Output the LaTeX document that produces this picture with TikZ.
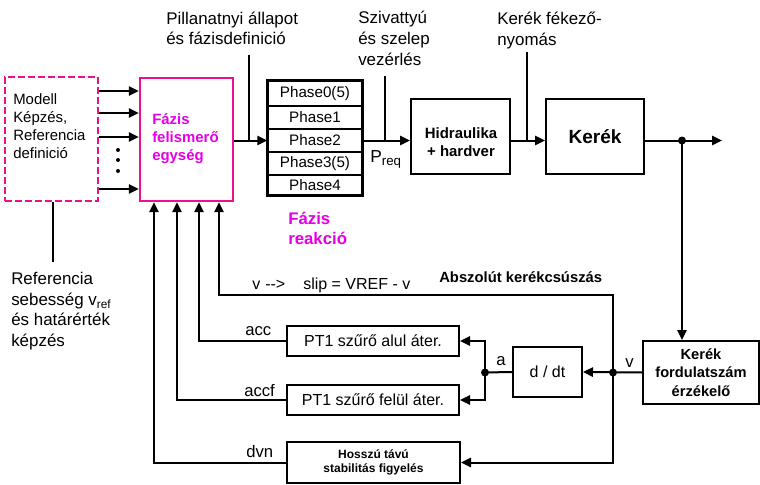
\documentclass[tikz,border=0pt]{standalone}
\usepackage{fontspec}
\setmainfont{Liberation Sans}
\usetikzlibrary{arrows.meta,calc}
\definecolor{pinkb}{RGB}{236,16,140}
\definecolor{magt}{RGB}{228,0,228}
\newcommand{\fsz}[2]{\fontsize{#1}{#2}\selectfont}
\begin{document}
\begin{tikzpicture}[x=0.75pt,y=-0.75pt,
  ln/.style={line width=1.5pt},
  arr/.style={line width=1.5pt,-{Triangle[length=7.5pt,width=7pt]}},
  box/.style={draw,line width=1.5pt,inner sep=0pt,align=center},
  tx/.style={inner sep=0pt,anchor=north west,align=left},
  bx/.style={inner sep=0pt,anchor=base west},
  dotc/.style={fill,circle,inner sep=0pt,minimum size=6pt}]
\useasboundingbox (0,0) rectangle (760,485);

% main boxes
\node[box,draw=pinkb,dash pattern=on 5pt off 2.5pt,minimum width=69.75pt,minimum height=93pt] (mb) at (51.5,139) {};
\node[tx,font=\fsz{11.2}{13.5}] (mbtext) at (13,93) {Modell\\Képzés,\\Referencia\\definició};
\node[box,draw=pinkb,line width=1.8pt,minimum width=69.75pt,minimum height=92.25pt] (fe) at (186.5,139.5) {};
\node[tx,font=\fsz{11.2}{13.5}\bfseries,text=magt] (fetext) at (152,113) {Fázis\\felismerő\\egység};

% phase stack
\begin{scope}[every node/.append style={box,line width=1.1pt,font=\fsz{11.4}{13},minimum width=70.5pt}]
\node[minimum height=18.75pt] (p0) at (315,93.5) {Phase0(5)};
\node[minimum height=17.25pt] (p1) at (315,117.5) {Phase1};
\node[minimum height=17.25pt] (p2) at (315,140.5) {Phase2};
\node[minimum height=17.25pt] (p3) at (315,163.5) {Phase3(5)};
\node[minimum height=15pt] (p4) at (315,185) {Phase4};
\end{scope}
\draw[line width=1.5pt] (p0.north west) rectangle (p4.south east);

\node[box,minimum width=74.25pt,minimum height=56.25pt] (hid) at (460.5,136.5) {};
\node[inner sep=0pt,align=center,font=\fsz{11.2}{14}\bfseries] (hidtext) at (461,142) {Hidraulika\\+ hardver};
\node[box,minimum width=73.5pt,minimum height=56.25pt,font=\fsz{14.3}{16}\bfseries] (ker) at (595,136.5) {Kerék};
\node[box,minimum width=87pt,minimum height=47.25pt,font=\fsz{11}{14}\bfseries] (sens) at (701,372.5) {Kerék\\fordulatszám\\érzékelő};
\node[box,minimum width=51.75pt,minimum height=37.5pt,font=\fsz{12}{14}] (ddt) at (547.5,372) {d / dt};
\node[box,minimum width=129pt,minimum height=22.5pt,font=\fsz{12}{14}] (pt1a) at (373,341) {PT1 szűrő alul áter.};
\node[box,minimum width=129pt,minimum height=22.5pt,font=\fsz{12}{14}] (pt1b) at (373,400) {PT1 szűrő felül áter.};
\node[box,minimum width=129.75pt,minimum height=30.75pt,font=\fsz{9}{11}\bfseries] (hossz) at (373.5,462.5) {Hosszú távú\\stabilitás figyelés};

% labels
\node[tx,font=\fsz{12.7}{15}] (pilllab) at (166,12) {Pillanatnyi állapot\\és fázisdefinició};
\node[tx,font=\fsz{12.7}{15.5}] (szlab) at (358,11) {Szivattyú\\és szelep\\vezérlés};
\node[tx,font=\fsz{12.7}{15.5}] (kflab) at (497,12) {Kerék fékező-\\nyomás};
\node[tx,font=\fsz{12.6}{15}\bfseries,text=magt] (reak) at (288,212) {Fázis\\reakció};
\node[tx,font=\fsz{13}{15}] (preq) at (370,150) {P\raisebox{-0.4ex}{\fsz{10}{12}req}};
\node[tx,font=\fsz{12.7}{15.5}] (reflab) at (11,272) {Referencia\\sebesség v\textsubscript{ref}\\és határérték\\képzés};
\node[bx,font=\fsz{12}{14}] (vlab1) at (252,289) {v};
\node[bx,font=\fsz{12}{14}] (arrlab) at (265,289) {{-}{-}>};
\node[bx,font=\fsz{12}{14}] (sliplab) at (303,289) {slip = VREF - v};
\node[bx,font=\fsz{11.1}{14}\bfseries] (abslab) at (439,282) {Abszolút kerékcsúszás};
\node[bx,font=\fsz{12.5}{14}] (acclab) at (245,335) {acc};
\node[bx,font=\fsz{12.5}{14}] (accflab) at (244,396) {accf};
\node[bx,font=\fsz{12.5}{14}] (dvnlab) at (246,457) {dvn};
\node[bx,font=\fsz{12.5}{14}] (alab) at (496,365) {a};
\node[bx,font=\fsz{12.5}{14}] (vlab2) at (625,367) {v};

% coordinates
\coordinate (reftop) at (53,262);
\coordinate (pl) at (249,55);
\coordinate (sz) at (385,76);
\coordinate (kf) at (527,52);
\coordinate (outarr) at (722,140.5);
\coordinate (kdot) at (682,140.5);
\coordinate (vdot) at (613,372.5);
\coordinate (adot) at (485,372.5);
\coordinate (slipc) at (613,295);

% vertical dots
\foreach \yy in {150,160,171} \fill (118,\yy) circle[radius=1.5pt];

% connectors
\foreach \yy in {91,113,137,189} \draw[arr] (mb.east |- 0,\yy) -- (fe.west |- 0,\yy);
\draw[ln] (mb.south -| reftop) -- (reftop);
\draw[arr] (fe.east |- p2.west) -- (p2.west);
\draw[ln] (pl) -- (pl |- p2.west);
\draw[arr] (p2.east) -- (p2.east -| hid.west);
\draw[ln] (sz) -- (sz |- p2.east);
\draw[arr] (p2.east -| hid.east) -- (p2.east -| ker.west);
\draw[ln] (kf) -- (kf |- p2.east);
\draw[arr] (p2.east -| ker.east) -- (outarr);
\draw[arr] (kdot) -- (kdot |- sens.north);
\draw[arr] (sens.west) -- (ddt.east);
\draw[ln] (ddt.west) -- (adot);
\draw[arr] (adot) |- (pt1a.east);
\draw[arr] (adot) |- (pt1b.east);
\draw[arr] (vdot) |- (hossz.east);
\draw[arr] (vdot) -- (slipc) -| (fe.south -| 219,0);
\draw[arr] (pt1a.west) -| (fe.south -| 199,0);
\draw[arr] (pt1b.west) -| (fe.south -| 177,0);
\draw[arr] (hossz.west) -| (fe.south -| 154,0);
\fill (kdot) circle[radius=3pt];
\fill (vdot) circle[radius=3pt];
\fill (adot) circle[radius=3pt];
\end{tikzpicture}
\end{document}
